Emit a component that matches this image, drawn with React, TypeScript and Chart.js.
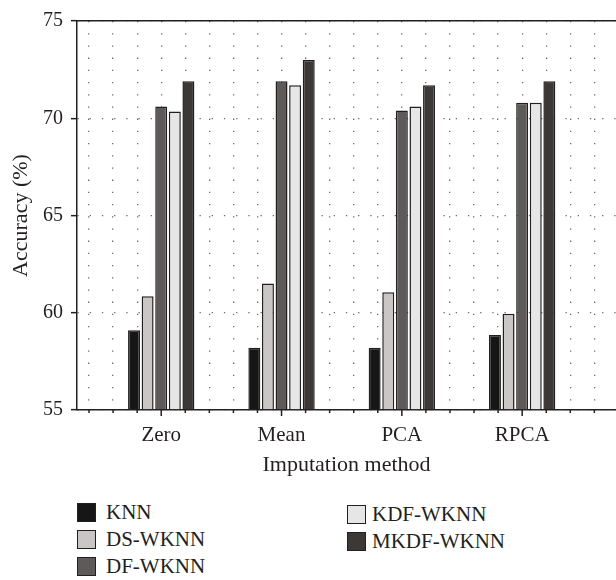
import React, { useEffect, useRef } from "react";
import { Chart, registerables } from "chart.js";

Chart.register(...registerables);

const categories = ["Zero", "Mean", "PCA", "RPCA"];
const seriesNames = ["KNN", "DS-WKNN", "DF-WKNN", "KDF-WKNN", "MKDF-WKNN"];
const knn = [59.1, 58.2, 58.2, 58.85];
const dsWknn = [60.85, 61.5, 61.05, 59.95];
const dfWknn = [70.6, 71.9, 70.4, 70.8];
const kdfWknn = [70.35, 71.7, 70.6, 70.8];
const mkdfWknn = [71.9, 73.0, 71.7, 71.9];
const seriesValues = [knn, dsWknn, dfWknn, kdfWknn, mkdfWknn];
const seriesColors = ["#161616", "#c9c6c5", "#5e5a59", "#e6e6e6", "#3c3835"];
const yTicks = [55, 60, 65, 70, 75];
const xMin = 0.3;
const xMax = 4.78;
const xMinorStep = 0.2;
const groupFraction = 0.565;

const INK = "#231f20";
const FONT = "'Liberation Serif', 'Times New Roman', serif";

const xTickValues: number[] = [];
for (let v = 0.4; v <= 4.6 + 1e-9; v += xMinorStep) {
  xTickValues.push(Math.round(v * 10) / 10);
}

const isMajor = (v: number) => Math.abs(v - Math.round(v)) < 1e-6;

const xTickMarks = {
  id: "xTickMarks",
  afterDraw(chart: any) {
    const s = chart.scales.x;
    const ctx = chart.ctx;
    ctx.save();
    ctx.strokeStyle = INK;
    ctx.lineWidth = 1.5;
    s.ticks.forEach((t: any) => {
      const px = s.getPixelForValue(t.value);
      const len = isMajor(t.value) ? 6 : 3;
      ctx.beginPath();
      ctx.moveTo(px, s.top);
      ctx.lineTo(px, s.top + len);
      ctx.stroke();
    });
    ctx.restore();
  },
};

export default function App() {
  const ref = useRef<HTMLCanvasElement | null>(null);

  useEffect(() => {
    if (!ref.current) return;
    Chart.defaults.font.family = FONT;
    Chart.defaults.color = INK;
    const chart = new Chart(ref.current, {
      type: "bar",
      data: {
        datasets: seriesNames.map((name, k) => ({
          label: name,
          data: seriesValues[k].map((v, i) => ({ x: i + 1, y: v })),
          backgroundColor: seriesColors[k],
          borderColor: INK,
          borderWidth: 1.5,
          base: 55,
          // the bar ruler uses the minor tick spacing, so scale the group fraction by it
          categoryPercentage: groupFraction / xMinorStep,
          barPercentage: 0.88,
        })),
      },
      options: {
        responsive: false,
        animation: false,
        layout: { padding: { top: 21, left: 0, right: 0, bottom: 0 } },
        plugins: { legend: { display: false }, tooltip: { enabled: false } },
        scales: {
          x: {
            type: "linear",
            position: "bottom",
            min: xMin,
            max: xMax,
            offset: false,
            afterBuildTicks: (s: any) => {
              s.ticks = xTickValues.map((v) => ({ value: v }));
            },
            afterFit: (s: any) => {
              s.height = 72;
            },
            grid: {
              offset: false,
              drawTicks: false,
              color: "#6b6b6b",
              lineWidth: 1.3,
            },
            border: { display: true, color: INK, width: 1.5, dash: [1.3, 10.9] },
            ticks: {
              padding: 13,
              autoSkip: false,
              maxRotation: 0,
              font: { size: 21 },
              color: INK,
              callback: (v: any) => {
                const n = Number(v);
                return isMajor(n) ? categories[Math.round(n) - 1] ?? "" : "";
              },
            },
            title: {
              display: true,
              text: "Imputation method",
              font: { size: 22 },
              color: INK,
              padding: { top: 4, bottom: 4 },
            },
          },
          x2: {
            type: "linear",
            position: "top",
            min: xMin,
            max: xMax,
            offset: false,
            grid: { display: false },
            ticks: { display: false },
            border: { display: true, color: INK, width: 1.5 },
            afterFit: (s: any) => {
              s.height = 0;
            },
          },
          y: {
            min: 55,
            max: 75,
            afterBuildTicks: (s: any) => {
              s.ticks = yTicks.map((v) => ({ value: v }));
            },
            afterFit: (s: any) => {
              s.width = 77;
            },
            grid: {
              color: "#6b6b6b",
              lineWidth: 1.3,
              drawTicks: true,
              tickLength: 6,
              tickColor: INK,
              tickWidth: 1.5,
              tickBorderDash: [],
            },
            border: { display: true, color: INK, width: 1.5, dash: [1.3, 10.9] },
            ticks: { padding: 8, font: { size: 20 }, color: INK },
            title: {
              display: true,
              text: "Accuracy (%)",
              font: { size: 22 },
              color: INK,
              padding: { top: 8, bottom: 4 },
            },
          },
        },
      } as any,
      plugins: [xTickMarks],
    });
    return () => chart.destroy();
  }, []);

  const legendCol = (i: number) => (i < 3 ? 0 : 1);
  const colLeft = [77, 347];
  const colTop = [503, 505];
  const colGap = [10, 6];

  return (
    <div style={{ position: "absolute", left: 0, top: 0, width: 616, height: 580 }}>
      <canvas ref={ref} width={616} height={482} style={{ width: 616, height: 482, display: "block" }} />
      {seriesNames.map((name, i) => {
        const c = legendCol(i);
        const row = c === 0 ? i : i - 3;
        return (
          <div
            key={name}
            style={{
              position: "absolute",
              left: colLeft[c],
              top: colTop[c] + row * 27,
              height: 19,
              display: "flex",
              alignItems: "center",
              fontFamily: FONT,
              fontSize: 21,
              color: INK,
              whiteSpace: "nowrap",
            }}
          >
            <div
              style={{
                width: 19,
                height: 19,
                boxSizing: "border-box",
                background: seriesColors[i],
                border: `1.5px solid ${INK}`,
                marginRight: colGap[c],
                flex: "none",
              }}
            />
            <span style={{ lineHeight: "19px" }}>{name}</span>
          </div>
        );
      })}
    </div>
  );
}
